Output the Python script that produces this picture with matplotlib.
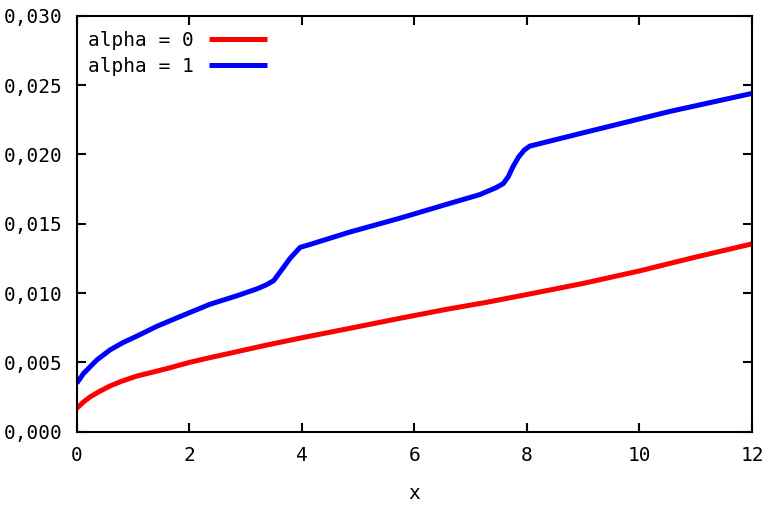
import numpy as np
import matplotlib
matplotlib.use("Agg")
import matplotlib.pyplot as plt
from matplotlib.ticker import FuncFormatter

# values
x_alpha0 = [0.0, 0.12, 0.24, 0.4, 0.59, 0.8, 1.07, 1.35, 1.66, 2.0, 2.25, 2.84,
            3.37, 4.0, 4.85, 5.7, 6.57, 7.3, 8.0, 9.0, 10.0, 11.0, 12.0]
y_alpha0 = [0.00169, 0.00215, 0.00252, 0.0029, 0.0033, 0.00365, 0.00402, 0.0043,
            0.00462, 0.00500, 0.00524, 0.00577, 0.00625, 0.00678, 0.00746, 0.00815,
            0.00883, 0.00935, 0.0099, 0.0107, 0.0116, 0.0126, 0.01355]

x_alpha1 = [0.0, 0.12, 0.355, 0.59, 0.83, 1.07, 1.42, 1.89, 2.37, 2.84, 3.2, 3.37,
            3.5, 3.61, 3.79, 3.97, 4.14, 4.85, 5.74, 6.57, 7.16, 7.45, 7.58, 7.67,
            7.75, 7.85, 7.95, 8.05, 8.94, 10.54, 12.0]
y_alpha1 = [0.0035, 0.0042, 0.00517, 0.0059, 0.00645, 0.0069, 0.0076, 0.0084,
            0.0092, 0.0098, 0.0103, 0.0106, 0.0109, 0.0115, 0.0125, 0.0133, 0.0135,
            0.0144, 0.0154, 0.0164, 0.0171, 0.0176, 0.0179, 0.0184, 0.0191, 0.0198,
            0.0203, 0.0206, 0.0215, 0.0231, 0.0244]

labels = ["alpha = 0", "alpha = 1"]
colors = ["#ff0000", "#0000ff"]

x_ticks = [0, 2, 4, 6, 8, 10, 12]
y_ticks = [0.000, 0.005, 0.010, 0.015, 0.020, 0.025, 0.030]


def commaFmt(v, pos):
    return ("%.3f" % v).replace(".", ",")


def main():
    plt.rcParams["font.family"] = ["DejaVu Sans Mono"]
    plt.rcParams["font.size"] = 14
    fig = plt.figure(figsize=(7.74, 5.08), dpi=100)
    ax = fig.add_axes([0.0991, 0.150, 0.8725, 0.819])

    ax.plot(x_alpha0, y_alpha0, color=colors[0], linewidth=3.6, label=labels[0],
            solid_capstyle="butt")
    ax.plot(x_alpha1, y_alpha1, color=colors[1], linewidth=3.6, label=labels[1],
            solid_capstyle="butt")

    ax.set_xlim(0, 12)
    ax.set_ylim(0, 0.030)
    ax.set_xticks(x_ticks)
    ax.set_yticks(y_ticks)
    ax.yaxis.set_major_formatter(FuncFormatter(commaFmt))
    ax.tick_params(direction="in", length=6.5, width=1.5, top=True, right=True)
    ax.tick_params(axis="y", pad=10)
    ax.tick_params(axis="x", pad=10)
    for sp in ax.spines.values():
        sp.set_linewidth(1.5)
    ax.set_xlabel("x", labelpad=14)

    # gnuplot style key: text first, sample line to the right
    ax.legend(loc="upper left", markerfirst=False, frameon=False,
              handlelength=3.0, handletextpad=0.75, labelspacing=0.35,
              borderaxespad=0.4, bbox_to_anchor=(-0.006, 1.0))

    fig.savefig("out.png", dpi=100)


if __name__ == "__main__":
    main()
